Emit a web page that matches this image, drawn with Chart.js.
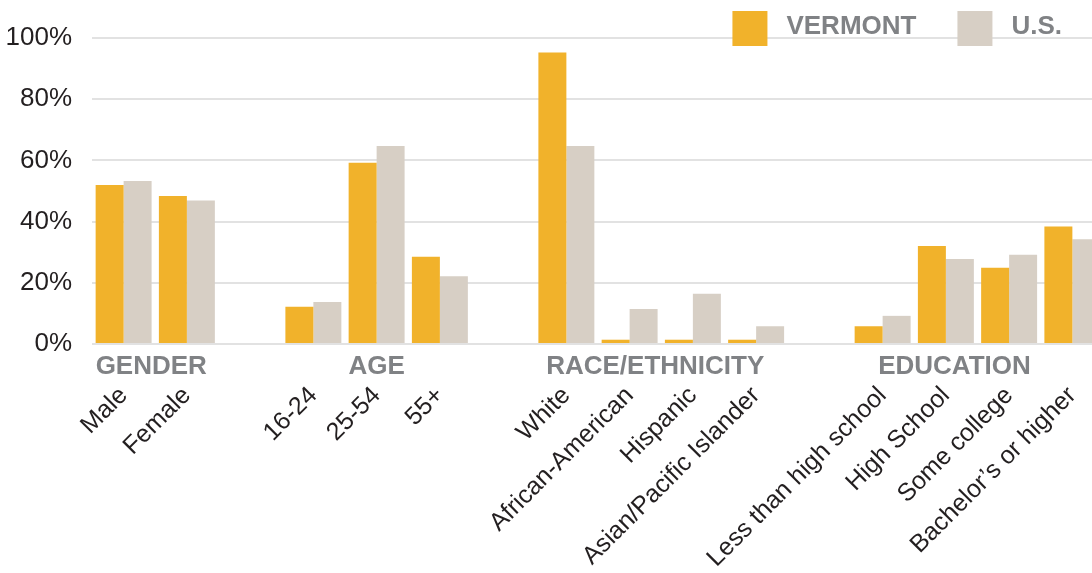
<!DOCTYPE html>
<html>
<head>
<meta charset="utf-8">
<script src="https://cdn.jsdelivr.net/npm/chart.js@4.4.1/dist/chart.umd.min.js"></script>
<style>
  html, body { margin: 0; padding: 0; overflow: hidden; background: #ffffff; }
  #chart { display: block; }
</style>
</head>
<body>
<canvas id="chart" width="1104" height="573"></canvas>
<script>
// Share of the labour force by group, Vermont vs. U.S. (percent)
const categories = [
  'Male', 'Female', '',
  '16-24', '25-54', '55+', '',
  'White', 'African-American', 'Hispanic', 'Asian/Pacific Islander', '',
  'Less than high school', 'High School', 'Some college', 'Bachelor’s or higher'
];
const vermont = [52, 48.4, null, 12.2, 59.2, 28.5, null, 95.3, 1.4, 1.4, 1.4, null, 5.8, 32, 24.9, 38.4];
const us      = [53.3, 46.9, null, 13.7, 64.7, 22.1, null, 64.7, 11.4, 16.4, 5.8, null, 9.2, 27.8, 29.2, 34.2];
const yTickValues = [0, 20, 40, 60, 80, 100];
const groupNames = ['GENDER', 'AGE', 'RACE/ETHNICITY', 'EDUCATION'];
const groupFirst = [0, 3, 7, 12];
const groupLast  = [1, 5, 10, 15];

const ORANGE = '#F1B22B';
const SAND = '#D7CFC5';
const GREY_TEXT = '#808285';
const DARK_TEXT = '#231F20';
const FONT = '"Liberation Sans", Arial, Helvetica, sans-serif';

// Bold grey group headings under the axis, centred on their categories
const groupHeadings = {
  id: 'groupHeadings',
  afterDatasetsDraw(chart, args, opts) {
    const ctx = chart.ctx;
    const x = chart.scales.x;
    ctx.save();
    ctx.font = 'bold 26px ' + FONT;
    ctx.fillStyle = GREY_TEXT;
    ctx.textAlign = 'center';
    ctx.textBaseline = 'alphabetic';
    groupNames.forEach((name, i) => {
      const cx = (x.getPixelForValue(groupFirst[i]) + x.getPixelForValue(groupLast[i])) / 2 + opts.nudge[i];
      ctx.fillText(name, cx, chart.chartArea.bottom + opts.offsetY);
    });
    ctx.restore();
  }
};

// Legend with large square swatches, anchored to the top-right
const swatchLegend = {
  id: 'swatchLegend',
  afterDraw(chart, args, opts) {
    const ctx = chart.ctx;
    ctx.save();
    ctx.font = 'bold 26px ' + FONT;
    ctx.textBaseline = 'alphabetic';
    ctx.textAlign = 'left';
    const items = chart.data.datasets.map(d => ({ label: d.label, color: d.backgroundColor }));
    let right = chart.width - opts.rightInset;
    for (let i = items.length - 1; i >= 0; i--) {
      const it = items[i];
      const w = ctx.measureText(it.label).width;
      const textX = right - w;
      const boxX = textX - opts.textGap - opts.box;
      ctx.fillStyle = it.color;
      ctx.fillRect(boxX, opts.top, opts.box, opts.box);
      ctx.fillStyle = GREY_TEXT;
      ctx.fillText(it.label, textX, opts.baseline);
      right = boxX - opts.itemGap;
    }
    ctx.restore();
  }
};

new Chart(document.getElementById('chart'), {
  type: 'bar',
  data: {
    labels: categories,
    datasets: [
      { label: 'VERMONT', data: vermont, backgroundColor: ORANGE },
      { label: 'U.S.', data: us, backgroundColor: SAND }
    ]
  },
  options: {
    responsive: false,
    maintainAspectRatio: false,
    animation: false,
    devicePixelRatio: 1,
    layout: { padding: { top: 38, left: 0, right: 0, bottom: 0 } },
    datasets: { bar: { categoryPercentage: 0.885, barPercentage: 1.0, borderWidth: 0 } },
    plugins: {
      legend: { display: false },
      tooltip: { enabled: false },
      groupHeadings: { offsetY: 30, nudge: [-4, 0, -6, -23] },
      swatchLegend: { rightInset: 42, top: 11, box: 35, textGap: 19, itemGap: 41, baseline: 34 }
    },
    scales: {
      x: {
        grid: { display: false, drawTicks: false },
        border: { display: false },
        ticks: {
          autoSkip: false,
          minRotation: 45,
          maxRotation: 45,
          padding: 37,
          color: DARK_TEXT,
          font: { family: FONT, size: 25 }
        },
        afterFit(scale) {
          scale.height = 229;
          scale.paddingLeft = 0;
          scale.paddingRight = 0;
        }
      },
      y: {
        min: 0,
        max: 100,
        afterBuildTicks(scale) { scale.ticks = yTickValues.map(v => ({ value: v })); },
        grid: { color: '#E2E2E2', lineWidth: 2, drawTicks: false },
        border: { display: false },
        ticks: {
          padding: 20,
          color: DARK_TEXT,
          font: { family: FONT, size: 26 },
          callback: v => v + '%'
        },
        afterFit(scale) { scale.width = 92; }
      }
    }
  },
  plugins: [groupHeadings, swatchLegend]
});
</script>
</body>
</html>
